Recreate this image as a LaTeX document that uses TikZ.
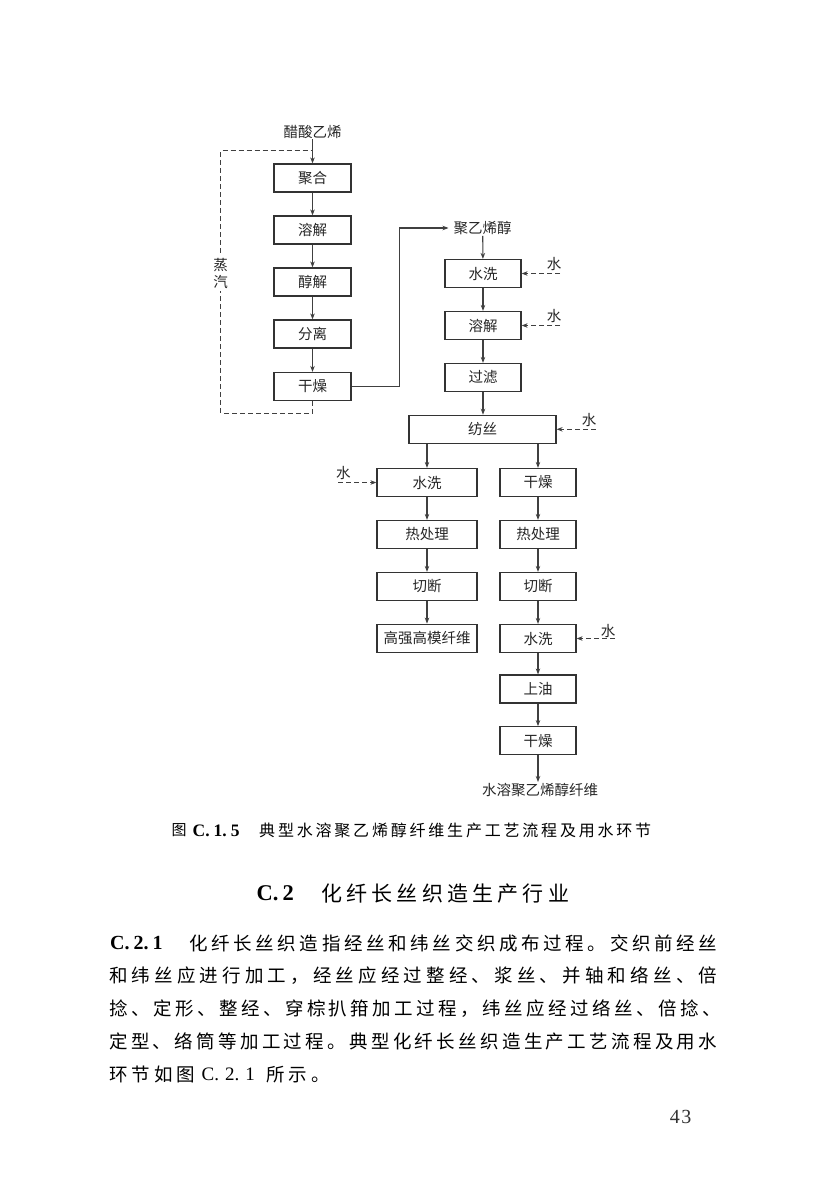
\documentclass[tikz,border=0pt]{standalone}
\usepackage{fontspec}
\setmainfont{Liberation Serif}
\newfontfamily\cjk{Noto Sans CJK SC}
\usetikzlibrary{arrows.meta}
\ExplSyntaxOn
\NewDocumentCommand\spreadtext{mm}{\hbox~to~#1{\tl_map_inline:nn{#2}{##1\hfil}\unskip}}
\ExplSyntaxOff
\begin{document}
\begin{tikzpicture}[x=1pt,y=-1pt,
  line/.style={draw=black!75, line width=1.1pt},
  flow/.style={line, -{Stealth[length=6pt,width=4.5pt]}},
  water/.style={flow, dash pattern=on 5pt off 3pt},
  proc/.style={draw=black!80, line width=1.2pt, minimum height=28pt, inner sep=0pt,
    font=\cjk\fontsize{14.5pt}{16pt}\selectfont, text=black!85},
  procL/.style={proc, minimum width=77pt},
  procR/.style={proc, minimum width=76pt},
  procW/.style={proc, minimum width=100pt},
  lbl/.style={inner sep=1pt, font=\cjk\fontsize{14.5pt}{16pt}\selectfont, text=black!85},
  para/.style={anchor=west, inner sep=0pt, font=\cjk\fontsize{18.5pt}{18.5pt}\selectfont},
  latb/.style={anchor=west, inner sep=0pt, font=\bfseries\fontsize{20pt}{20pt}\selectfont},
]
\useasboundingbox[fill=white] (0,0) rectangle (827,1199);

% ---------- left column ----------
\node[lbl] (vac) at (312.5,131.5) {醋酸乙烯};
\node[procL] (p1) at (312.5,178) {聚合};
\node[procL] (p2) at (312.5,230) {溶解};
\node[procL] (p3) at (312.5,282) {醇解};
\node[procL] (p4) at (312.5,334) {分离};
\node[procL] (p5) at (312.5,386.5) {干燥};
\draw[flow] (vac) -- (p1);
\draw[flow] (p1) -- (p2);
\draw[flow] (p2) -- (p3);
\draw[flow] (p3) -- (p4);
\draw[flow] (p4) -- (p5);

% steam loop
\coordinate (lt) at (312.5,150.7);
\draw[line, dash pattern=on 5pt off 3pt] (p5.south) -- ++(0,12) -| (220.7,150.7) -- (lt);
\node[lbl, fill=white, align=center, inner sep=2.5pt,
  font=\cjk\fontsize{14.5pt}{16.7pt}\selectfont] (steam) at (220.7,273.5) {蒸\\汽};

% ---------- right upper column ----------
\node[lbl] (pva) at (482.7,228) {聚乙烯醇};
\draw[flow, shorten >=4pt] (p5.east) -- ++(48,0) |- (pva.west);
\node[procR] (r1) at (483,273.5) {水洗};
\node[procR] (r2) at (483,325.5) {溶解};
\node[procR] (r3) at (483,377.5) {过滤};
\node[proc, minimum width=147pt] (spin) at (482.5,429.3) {纺丝};
\draw[flow] (pva) -- (r1);
\draw[flow] (r1) -- (r2);
\draw[flow] (r2) -- (r3);
\draw[flow] (r3) -- (r3 |- spin.north);

% ---------- lower left ----------
\node[procW] (l1) at (427,482.5) {水洗};
\node[procW] (l2) at (427,534.5) {热处理};
\node[procW] (l3) at (427,586.5) {切断};
\node[procW] (l4) at (427,638.2) {高强高模纤维};
\draw[flow] (spin.south -| l1.north) -- (l1.north);
\draw[flow] (l1) -- (l2);
\draw[flow] (l2) -- (l3);
\draw[flow] (l3) -- (l4);

% ---------- lower right ----------
\node[procR] (q1) at (538,482.5) {干燥};
\node[procR] (q2) at (538,534.5) {热处理};
\node[procR] (q3) at (538,586.5) {切断};
\node[procR] (q4) at (538,638.5) {水洗};
\node[procR] (q5) at (538,689) {上油};
\node[procR] (q6) at (538,740.7) {干燥};
\node[lbl] (fib) at (540,790) {水溶聚乙烯醇纤维};
\draw[flow] (spin.south -| q1.north) -- (q1.north);
\draw[flow] (q1) -- (q2);
\draw[flow] (q2) -- (q3);
\draw[flow] (q3) -- (q4);
\draw[flow] (q4) -- (q5);
\draw[flow] (q5) -- (q6);
\draw[flow] (q6.south) -- (q6.south |- fib.north);

% ---------- water inputs ----------
\node[lbl] (wl1) at (554,264) {水};
\coordinate (ws1) at (560,273.5);
\draw[water] (ws1) -- (r1.east);
\node[lbl] (wl2) at (554,315.7) {水};
\coordinate (ws2) at (560,325.5);
\draw[water] (ws2) -- (r2.east);
\node[lbl] (wl3) at (589,420) {水};
\coordinate (ws3) at (595.7,429.3);
\draw[water] (ws3) -- (spin.east);
\node[lbl] (wl4) at (343.3,473.3) {水};
\coordinate (ws4) at (338,482.5);
\draw[water] (ws4) -- (l1.west);
\node[lbl] (wl5) at (608,630.7) {水};
\coordinate (ws5) at (615,638.5);
\draw[water] (ws5) -- (q4.east);

% ---------- caption ----------
\node[anchor=west, inner sep=0pt, font=\cjk\fontsize{15pt}{15pt}\selectfont] (capfig) at (171.5,830.5) {图};
\node[anchor=west, inner sep=0pt, font=\bfseries\fontsize{17.5pt}{17.5pt}\selectfont] (capnum) at (192.5,830.5) {C.\hspace{4pt}1.\hspace{4pt}5};
\node[anchor=west, inner sep=0pt, font=\cjk\fontsize{16pt}{16pt}\selectfont] (captxt) at (259,830.5)
  {\spreadtext{392pt}{典型水溶聚乙烯醇纤维生产工艺流程及用水环节}};

% ---------- section heading ----------
\node[anchor=west, inner sep=0pt, font=\bfseries\fontsize{22.5pt}{22.5pt}\selectfont] (hnum) at (256.5,893.3) {C.\hspace{4pt}2};
\node[anchor=west, inner sep=0pt, font=\cjk\fontsize{21pt}{21pt}\selectfont] (htxt) at (321,893.3)
  {\spreadtext{248pt}{化纤长丝织造生产行业}};

% ---------- paragraph ----------
\node[latb] (pnum) at (110,943.3) {C.\hspace{4pt}2.\hspace{4pt}1};
\node[para] (pl1) at (189,943.3) {\spreadtext{528pt}{化纤长丝织造指经丝和纬丝交织成布过程。交织前经丝}};
\node[para] (pl2) at (109,976) {\spreadtext{608pt}{和纬丝应进行加工，经丝应经过整经、浆丝、并轴和络丝、倍}};
\node[para] (pl3) at (109,1008.7) {\spreadtext{612pt}{捻、定形、整经、穿棕扒箝加工过程，纬丝应经过络丝、倍捻、}};
\node[para] (pl4) at (109,1041.5) {\spreadtext{608pt}{定型、络筒等加工过程。典型化纤长丝织造生产工艺流程及用水}};
\node[para] (pl5a) at (109,1074.3) {\spreadtext{86pt}{环节如图}};
\node[anchor=west, inner sep=0pt, font=\fontsize{19pt}{19pt}\selectfont] (pl5b) at (201.5,1074.3) {C.\hspace{6pt}2.\hspace{6pt}1};
\node[para] (pl5c) at (266,1074.3) {\spreadtext{64pt}{所示。}};

% ---------- page number ----------
\node[inner sep=0pt, font=\fontsize{20pt}{20pt}\selectfont, text=black!80] (pg) at (680.5,1117) {4\hspace{1.5pt}3};
\end{tikzpicture}
\end{document}
